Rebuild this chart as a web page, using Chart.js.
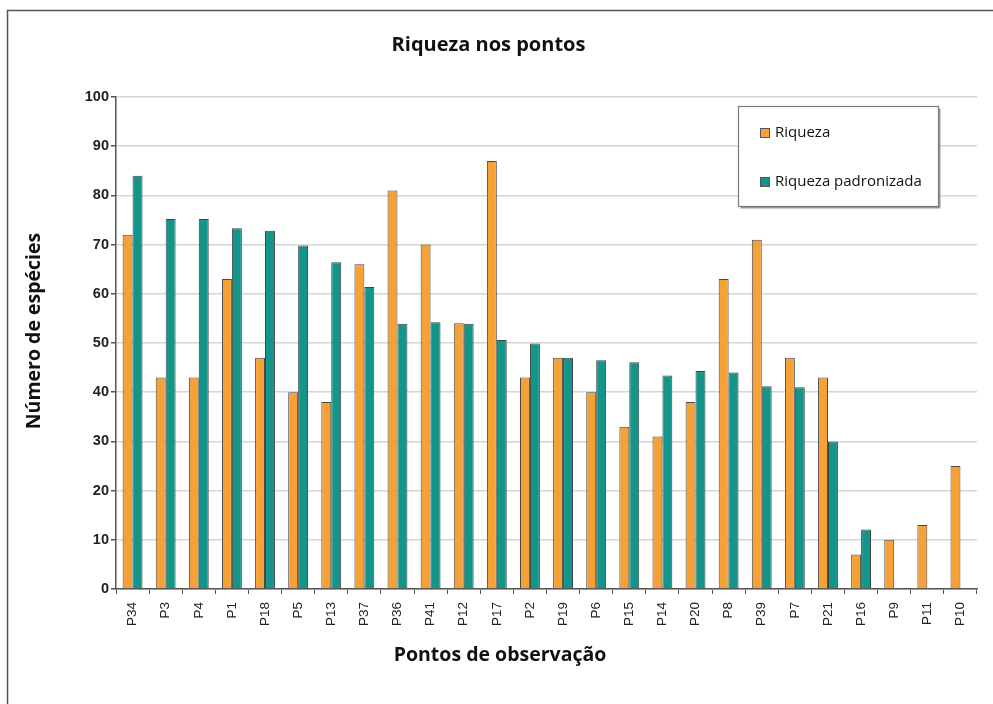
<!DOCTYPE html>
<html>
<head>
<meta charset="utf-8">
<script src="https://cdn.jsdelivr.net/npm/chart.js@4.4.1/dist/chart.umd.min.js"></script>
<style>
  html, body { margin: 0; padding: 0; background: #ffffff; }
  #wrap { width: 993px; height: 704px; }
</style>
</head>
<body>
<div id="wrap"><canvas id="c" width="993" height="704"></canvas></div>
<script>
// Observation points, ordered by standardized richness
const points = ['P34','P3','P4','P1','P18','P5','P13','P37','P36','P41','P12','P17','P2',
                'P19','P6','P15','P14','P20','P8','P39','P7','P21','P16','P9','P11','P10'];

// Species richness per point
const riqueza = [72, 43, 43, 63, 47, 40, 38, 66, 81, 70, 54, 87, 43,
                 47, 40, 33, 31, 38, 63, 71, 47, 43, 7, 10, 13, 25];

// Standardized richness per point (no value for the last three)
const riquezaPadronizada = [84, 75.2, 75.2, 73.3, 72.8, 69.8, 66.4, 61.4, 53.9, 54.2, 53.9, 50.6, 49.9,
                            47, 46.5, 46.1, 43.4, 44.3, 44, 41.2, 41, 30, 12.1, null, null, null];

// Y axis tick values
const yTicks = [0, 10, 20, 30, 40, 50, 60, 70, 80, 90, 100];

const seriesNames = ['Riqueza', 'Riqueza padronizada'];
const seriesColors = ['#F6A135', '#14958A'];
const titleText = 'Riqueza nos pontos';
const xTitleText = 'Pontos de observação';
const yTitleText = 'Número de espécies';

const textFont = '"Open Sans", "DejaVu Sans", sans-serif';
const tickFont = '"Liberation Sans", Arial, sans-serif';

// Outer frame around the whole chart
const framePlugin = {
  id: 'frame',
  beforeDraw(chart) {
    const c = chart.ctx;
    c.save();
    c.fillStyle = '#ffffff';
    c.fillRect(0, 0, chart.width, chart.height);
    c.strokeStyle = '#555555';
    c.lineWidth = 1.5;
    c.strokeRect(7.5, 10.5, chart.width + 20, chart.height + 20);
    c.restore();
  }
};

// Axis titles, centred on the frame
const axisTitlePlugin = {
  id: 'axisTitles',
  afterDraw(chart) {
    const c = chart.ctx;
    c.save();
    c.fillStyle = '#111111';
    c.font = 'bold 19.5px ' + textFont;
    c.textAlign = 'center';
    c.textBaseline = 'middle';
    c.fillText(xTitleText, 500, 655);
    c.translate(34, 331);
    c.rotate(-Math.PI / 2);
    c.fillText(yTitleText, 0, 0);
    c.restore();
  }
};

// Boxed legend in the upper right of the plot
const legendBoxPlugin = {
  id: 'legendBox',
  afterDraw(chart) {
    const c = chart.ctx;
    const x = 738.5, y = 106.5, w = 200, h = 100;
    c.save();
    c.fillStyle = '#9a9a9a';
    c.fillRect(x + 2, y + 2, w, h);
    c.fillStyle = '#ffffff';
    c.fillRect(x, y, w, h);
    c.strokeStyle = '#7a7a7a';
    c.lineWidth = 1.2;
    c.strokeRect(x, y, w, h);
    c.font = '15px ' + textFont;
    c.textBaseline = 'middle';
    c.textAlign = 'left';
    chart.data.datasets.forEach((ds, i) => {
      const cy = 133 + i * 49;
      c.fillStyle = ds.backgroundColor;
      c.fillRect(760.5, cy - 4.5, 9, 9);
      c.strokeStyle = '#555555';
      c.lineWidth = 1;
      c.strokeRect(760.5, cy - 4.5, 9, 9);
      c.fillStyle = '#111111';
      c.fillText(ds.label, 775, cy);
    });
    c.restore();
  }
};

new Chart(document.getElementById('c'), {
  type: 'bar',
  data: {
    labels: points,
    datasets: [
      { label: seriesNames[0], data: riqueza, backgroundColor: seriesColors[0],
        borderColor: '#4a4a4a', borderWidth: 1 },
      { label: seriesNames[1], data: riquezaPadronizada, backgroundColor: seriesColors[1],
        borderColor: '#3c4644', borderWidth: 1 }
    ]
  },
  options: {
    responsive: false,
    animation: false,
    layout: { padding: { left: 0, right: 16, top: 0, bottom: 0 } },
    datasets: { bar: { categoryPercentage: 0.6, barPercentage: 1.0 } },
    plugins: {
      legend: { display: false },
      tooltip: { enabled: false },
      title: {
        display: true,
        text: titleText,
        color: '#111111',
        font: { family: textFont, size: 20, weight: 'bold' },
        padding: { top: 33, bottom: 40 }
      }
    },
    scales: {
      x: {
        grid: { display: true, drawOnChartArea: false, tickLength: 5, tickColor: '#555555', lineWidth: 1 },
        border: { color: '#555555', width: 1.5 },
        ticks: {
          autoSkip: false, minRotation: 90, maxRotation: 90, padding: 8,
          color: '#222222', font: { family: tickFont, size: 13.5 }
        },
        afterFit(scale) { scale.height = 115; }
      },
      y: {
        min: 0, max: 100,
        afterBuildTicks(scale) { scale.ticks = yTicks.map(v => ({ value: v })); },
        grid: { color: '#d6d6d6', lineWidth: 1.5, tickLength: 5, tickColor: '#555555' },
        border: { color: '#555555', width: 1.5 },
        ticks: {
          padding: 2, color: '#222222',
          font: { family: tickFont, size: 14.5, weight: 'bold' }
        },
        afterFit(scale) { scale.width = 116; }
      }
    }
  },
  plugins: [framePlugin, axisTitlePlugin, legendBoxPlugin]
});
</script>
</body>
</html>
